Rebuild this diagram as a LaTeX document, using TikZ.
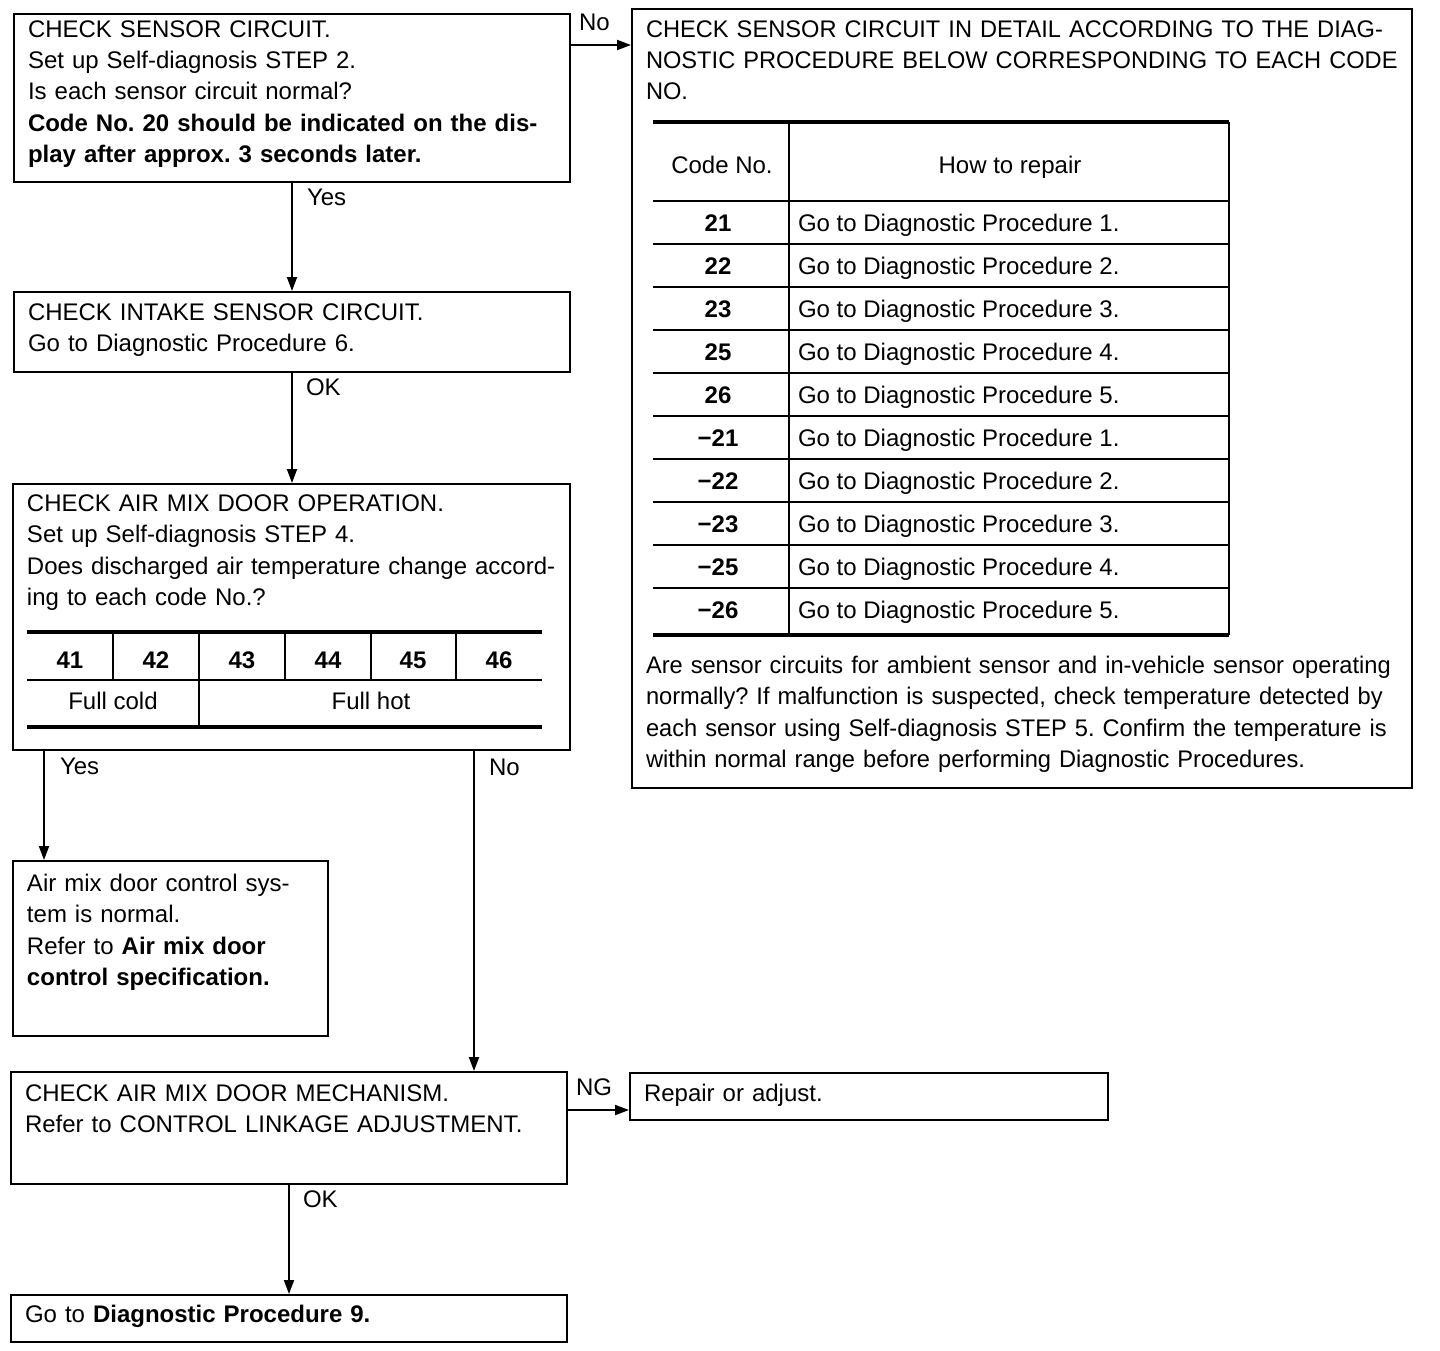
\documentclass[tikz,border=0pt]{standalone}
\usepackage{fontspec}
\setmainfont{Liberation Sans}
\usetikzlibrary{arrows.meta}
\frenchspacing

\begin{document}
\begin{tikzpicture}[
    x=1pt,
    y=-1pt,
    >={Triangle[length=14pt,width=10pt]},
    line width=2pt,
    font=\fontsize{24}{31.2}\selectfont
]

\useasboundingbox (0,0) rectangle (1440,1350);

\tikzstyle{stepbox}=[
    draw,
    anchor=north west,
    align=left,
    inner xsep=14pt,
    inner ysep=0pt,
    text height=28.5pt
]

\tikzstyle{narrow}=[
    font=\fontsize{24}{31.2}\selectfont\addfontfeature{FakeStretch=0.985}
]

\tikzstyle{answer}=[
    anchor=base west,
    inner sep=0pt
]

\tikzstyle{tabtext}=[
    anchor=base,
    inner sep=0pt
]

\tikzstyle{segcode}=[
    inner sep=0pt,
    font=\fontsize{24}{28}\selectfont\bfseries
]

\tikzstyle{thickrule}=[line width=4pt]


\node[stepbox, text width=528pt, text height=23.5pt, text depth=144.5pt] (sensor) at (13,13)
    {CHECK SENSOR CIRCUIT.\\
     Set up Self-diagnosis STEP 2.\\
     Is each sensor circuit normal?\\
     \textbf{Code No. 20 should be indicated on the dis-}\\
     \textbf{play after approx. 3 seconds later.}};

\node[stepbox, narrow, text width=752pt, text depth=750.5pt] (detail) at (631,8)
    {\mbox{CHECK SENSOR CIRCUIT IN DETAIL ACCORDING TO THE DIAG-}\\
     \mbox{NOSTIC PROCEDURE BELOW CORRESPONDING TO EACH CODE}\\
     NO.};

\node[stepbox, text width=528pt, text height=28.6pt, text depth=51.4pt] (intake) at (13,291)
    {CHECK INTAKE SENSOR CIRCUIT.\\
     Go to Diagnostic Procedure 6.};

\node[stepbox, text width=529pt, text height=27.6pt, text depth=238.4pt] (operation) at (12,483)
    {CHECK AIR MIX DOOR OPERATION.\\
     Set up Self-diagnosis STEP 4.\\
     \mbox{Does discharged air temperature change accord-}\\
     ing to each code No.?};

\node[stepbox, text width=287pt, text height=30.6pt, text depth=144.4pt] (normal) at (12,860)
    {Air mix door control sys-\\
     tem is normal.\\
     Refer to \textbf{Air mix door}\\
     \textbf{control specification.}};

\node[stepbox, text width=528pt, text height=29.6pt, text depth=82.4pt] (mechanism) at (10,1071)
    {CHECK AIR MIX DOOR MECHANISM.\\
     Refer to CONTROL LINKAGE ADJUSTMENT.};

\node[stepbox, text width=450pt, text height=28.6pt, text depth=18.4pt] (adjust) at (629,1072)
    {Repair or adjust.};

\node[stepbox, text width=528pt, text height=27.6pt, text depth=19.4pt] (final) at (10,1294)
    {Go to \textbf{Diagnostic Procedure 9.}};


\draw[thickrule] (653,122) -- (1229,122);
\draw[thickrule] (653,635) -- (1229,635);
\draw (789,122) -- (789,635);
\draw (1229,122) -- (1229,635);

\node[tabtext] (codehead) at (722,173.6) {Code No.};
\node[tabtext] (repairhead) at (1010,173.6) {How to repair};

\foreach \num/\proc [count=\i from 0, evaluate=\i as \rowy using 201+43*\i] in
    {21/1, 22/2, 23/3, 25/4, 26/5, −21/1, −22/2, −23/3, −25/4, −26/5} {
    \draw (653,\rowy) -- (1229,\rowy);
    \node[segcode] (code\i) at (718,\rowy+22) {\num};
    \node[tabtext, anchor=base west] (proc\i) at (797,\rowy+30.6) {Go to Diagnostic Procedure \proc.};
}

\node[narrow, anchor=base west, inner sep=0pt, align=left, text width=760pt] (note) at (645,673.6)
    {Are sensor circuits for ambient sensor and in-vehicle sensor operating\\
     normally? If malfunction is suspected, check temperature detected by\\
     each sensor using Self-diagnosis STEP 5. Confirm the temperature is\\
     within normal range before performing Diagnostic Procedures.};


\draw[thickrule] (27,632) -- (542,632);
\draw (27,680) -- (542,680);
\draw[thickrule] (27,727) -- (542,727);
\foreach \x in {113,285,371,456}
    \draw (\x,632) -- (\x,680);
\draw (199,632) -- (199,727);

\foreach \num/\x [count=\i] in {41/70, 42/156, 43/242, 44/328, 45/413, 46/499}
    \node[segcode] (mix\i) at (\x,660) {\num};

\node[tabtext] (cold) at (113,709.6) {Full cold};
\node[tabtext] (hot) at (371,709.6) {Full hot};


\draw[->] ([yshift=-32pt]sensor.north east) -- ([yshift=-32pt]sensor.north east -| detail.west);
\draw[->] (sensor.south) -- (intake.north);
\draw[->] (intake.south) -- (intake.south |- operation.north);
\draw[->] ([xshift=32pt]operation.south west) -- ([xshift=32pt]operation.south west |- normal.north);
\draw[->] ([xshift=462pt]operation.south west) -- ([xshift=462pt]operation.south west |- mechanism.north);
\draw[->] ([yshift=-39pt]mechanism.north east) -- ([yshift=-39pt]mechanism.north east -| adjust.west);
\draw[->] (mechanism.south) -- (final.north);


\node[answer] (no1) at (578,30.6) {No};
\node[answer] (yes1) at (306,205.6) {Yes};
\node[answer] (ok1) at (305,395.6) {OK};
\node[answer] (yes2) at (59,774.6) {Yes};
\node[answer] (no2) at (488,775.6) {No};
\node[answer] (ng) at (575,1095.6) {NG};
\node[answer] (ok2) at (302,1207.6) {OK};

\end{tikzpicture}
\end{document}
